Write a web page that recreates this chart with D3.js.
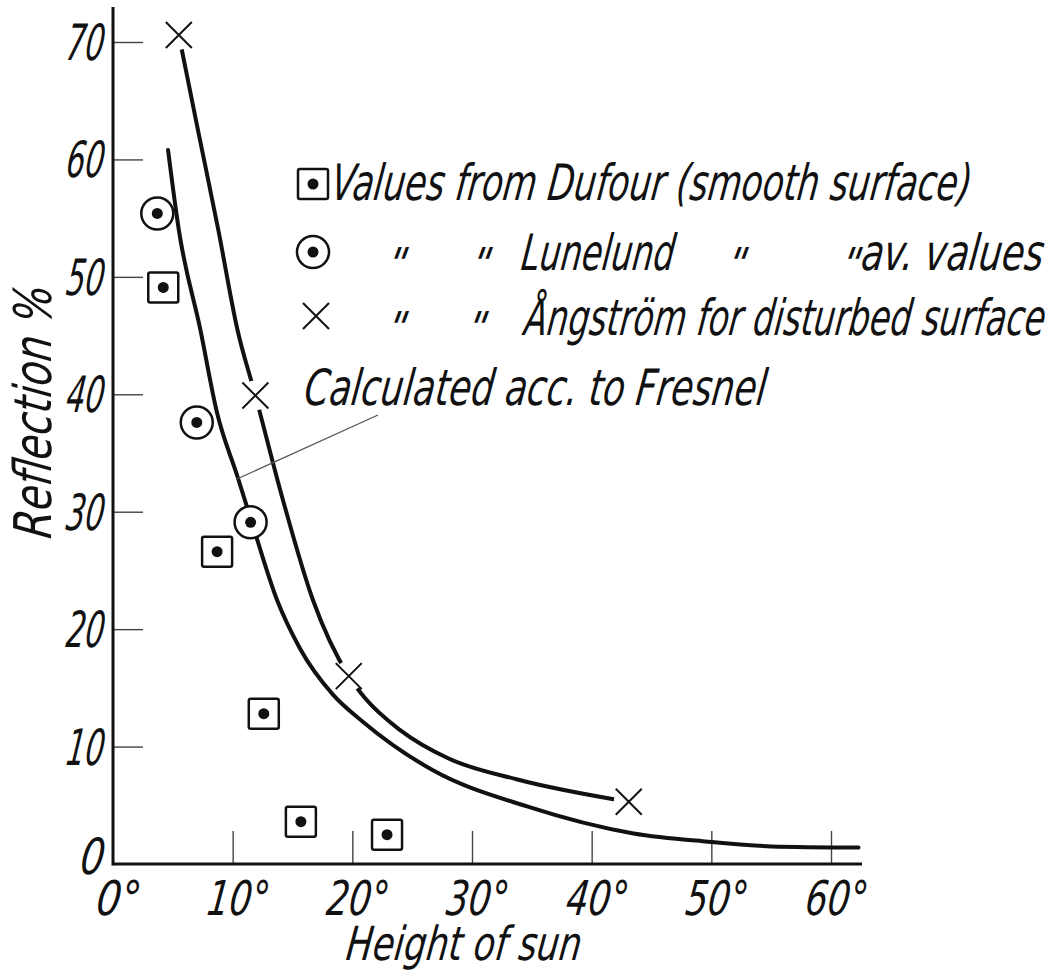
<!DOCTYPE html>
<html>
<head>
<meta charset="utf-8">
<script src="https://cdn.jsdelivr.net/npm/d3@7"></script>
<style>
  html, body { margin: 0; padding: 0; background: #fff; }
  svg { display: block; }
  .lbl { font-family: "DejaVu Sans Condensed", "DejaVu Sans", sans-serif; font-style: oblique; fill: #111; }
</style>
</head>
<body>
<div id="chart"></div>
<script>
// Data
const xTicks = [0, 10, 20, 30, 40, 50, 60];
const yTicks = [0, 10, 20, 30, 40, 50, 60, 70];

// Values from Dufour (smooth surface)
const dufour = [[4.2, 49.1], [8.7, 26.6], [12.6, 12.8], [15.7, 3.6], [22.9, 2.5]];
// Lunelund, av. values
const lunelund = [[3.7, 55.4], [7.0, 37.6], [11.5, 29.1]];
// Angstrom, disturbed surface
const angstrom = [[5.5, 70.6], [11.9, 39.9], [19.7, 16.0], [43.1, 5.3]];

// Curve calculated acc. to Fresnel
const fresnel = [
    [4.6, 60.8], [5.5, 54.0], [7.3, 45.5], [8.7, 38.4], [10.4, 33.0],
    [11.6, 29.1], [13.7, 22.5], [15.6, 18.4], [18.4, 14.4], [20.9, 12.1],
    [26.7, 8.0], [34.6, 4.9], [43.5, 2.6], [49.7, 1.9], [55.0, 1.5], [62.3, 1.4]
];
// Curve drawn through the Angstrom values
const angstromCurve = [
    [5.5, 70.6], [7.1, 62.5], [8.8, 54.0], [10.4, 45.5], [11.9, 39.9],
    [14.2, 31.0], [16.7, 22.5], [19.7, 16.0], [21.0, 14.2], [24.0, 11.4],
    [28.0, 9.0], [33.8, 7.2], [43.1, 5.3]
];

const width = 1054, height = 977;

const svg = d3.select('#chart')
    .append('svg')
    .attr('width', width)
    .attr('height', height);

const x = d3.scaleLinear().domain([0, 60]).range([113, 831]);
const y = d3.scaleLinear().domain([0, 70]).range([864, 42]);

// narrow, slanted lettering: measure the text, then squeeze it to the wanted width
function label(str, px, py, w, size, anchor, rot) {
    const t = svg.append('text')
        .attr('class', 'lbl')
        .attr('font-size', size)
        .attr('text-anchor', anchor || 'start')
        .text(str);
    const k = w / t.node().getComputedTextLength();
    t.attr('transform', `translate(${px},${py})` + (rot ? ` rotate(${rot})` : '') +
        ` skewX(-7) scale(${k},1)`);
    return t;
}

// Axes
const xAxis = d3.axisBottom(x).tickValues(xTicks.slice(1)).tickSize(-33).tickFormat('');
const yAxis = d3.axisLeft(y).tickValues(yTicks.slice(1)).tickSize(-30).tickFormat('');

const gx = svg.append('g').attr('transform', `translate(0,${y(0)})`).call(xAxis);
const gy = svg.append('g').attr('transform', `translate(${x(0)},0)`).call(yAxis);
[gx, gy].forEach(g => {
    g.select('.domain').remove();
    g.selectAll('.tick line').attr('stroke', '#444').attr('stroke-width', 1.4);
});

svg.append('line')
    .attr('x1', x(0)).attr('x2', 862)
    .attr('y1', y(0)).attr('y2', y(0))
    .attr('stroke', '#111').attr('stroke-width', 3);
svg.append('line')
    .attr('x1', x(0)).attr('x2', x(0))
    .attr('y1', 7).attr('y2', y(0) + 1.5)
    .attr('stroke', '#111').attr('stroke-width', 3);

// Tick labels
yTicks.forEach(v => {
    const s = String(v);
    label(s, 103, y(v) + 18 - (v === 0 ? 8 : 0), s.length === 1 ? 24 : 38, 50, 'end');
});
xTicks.forEach(v => {
    const s = v + '°';
    label(s, x(v) + 4, 915, v === 0 ? 44 : 62, 48, 'middle');
});

// Axis titles
label('Height of sun', 345, 960, 235, 47);
label('Reflection %', 51, 413, 253, 52, 'middle', -90);

// Curves
const line = d3.line()
    .x(d => x(d[0]))
    .y(d => y(d[1]))
    .curve(d3.curveMonotoneX);

svg.append('path')
    .datum(fresnel)
    .attr('d', line)
    .attr('fill', 'none')
    .attr('stroke', '#111')
    .attr('stroke-width', 4)
    .attr('stroke-linecap', 'round');

svg.append('path')
    .datum(angstromCurve)
    .attr('d', line)
    .attr('fill', 'none')
    .attr('stroke', '#111')
    .attr('stroke-width', 4)
    .attr('stroke-linecap', 'round');

// white gaps of the line around the crosses
svg.append('g').selectAll('circle')
    .data(angstrom)
    .join('circle')
    .attr('cx', d => x(d[0]))
    .attr('cy', d => y(d[1]))
    .attr('r', 15)
    .attr('fill', '#fff');

// leader line to the Fresnel curve
svg.append('line')
    .attr('x1', 237).attr('y1', 479)
    .attr('x2', 378).attr('y2', 415)
    .attr('stroke', '#555')
    .attr('stroke-width', 1.3);

// Markers
function squareMark(g, cx, cy) {
    g.append('rect')
        .attr('x', cx - 15).attr('y', cy - 15)
        .attr('width', 30).attr('height', 30)
        .attr('rx', 2)
        .attr('fill', '#fff').attr('stroke', '#111').attr('stroke-width', 2.5);
    g.append('circle').attr('cx', cx).attr('cy', cy).attr('r', 5.5).attr('fill', '#111');
}
function circleMark(g, cx, cy) {
    g.append('circle')
        .attr('cx', cx).attr('cy', cy).attr('r', 16)
        .attr('fill', '#fff').attr('stroke', '#111').attr('stroke-width', 2.5);
    g.append('circle').attr('cx', cx).attr('cy', cy).attr('r', 5.5).attr('fill', '#111');
}
function crossMark(g, cx, cy) {
    const h = 13;
    g.append('path')
        .attr('d', `M${cx - h},${cy - h}L${cx + h},${cy + h}M${cx - h},${cy + h}L${cx + h},${cy - h}`)
        .attr('stroke', '#111').attr('stroke-width', 2).attr('fill', 'none');
}

const marks = svg.append('g');
dufour.forEach(d => squareMark(marks, x(d[0]), y(d[1])));
lunelund.forEach(d => circleMark(marks, x(d[0]), y(d[1])));
angstrom.forEach(d => crossMark(marks, x(d[0]), y(d[1])));

// Legend
squareMark(marks, 313, 184);
circleMark(marks, 313, 252);
crossMark(marks, 316, 316);

label('Values from Dufour (smooth surface)', 330, 200, 640, 50);

// ditto marks, drawn at the middle of the row
const ditto = (px, py) => svg.append('text')
    .attr('class', 'lbl')
    .attr('font-size', 44)
    .attr('text-anchor', 'middle')
    .attr('transform', `translate(${px},${py}) skewX(-20)`)
    .text('"');
ditto(392, 279); ditto(476, 279); ditto(732, 279); ditto(846, 279);
label('Lunelund', 520, 270, 153, 50);
label('av. values', 860, 270, 182, 50);

ditto(392, 343); ditto(472, 343);
label('Ångström for disturbed surface', 523, 335, 521, 50);

label('Calculated acc. to Fresnel', 303, 405, 462, 50);
</script>
</body>
</html>
